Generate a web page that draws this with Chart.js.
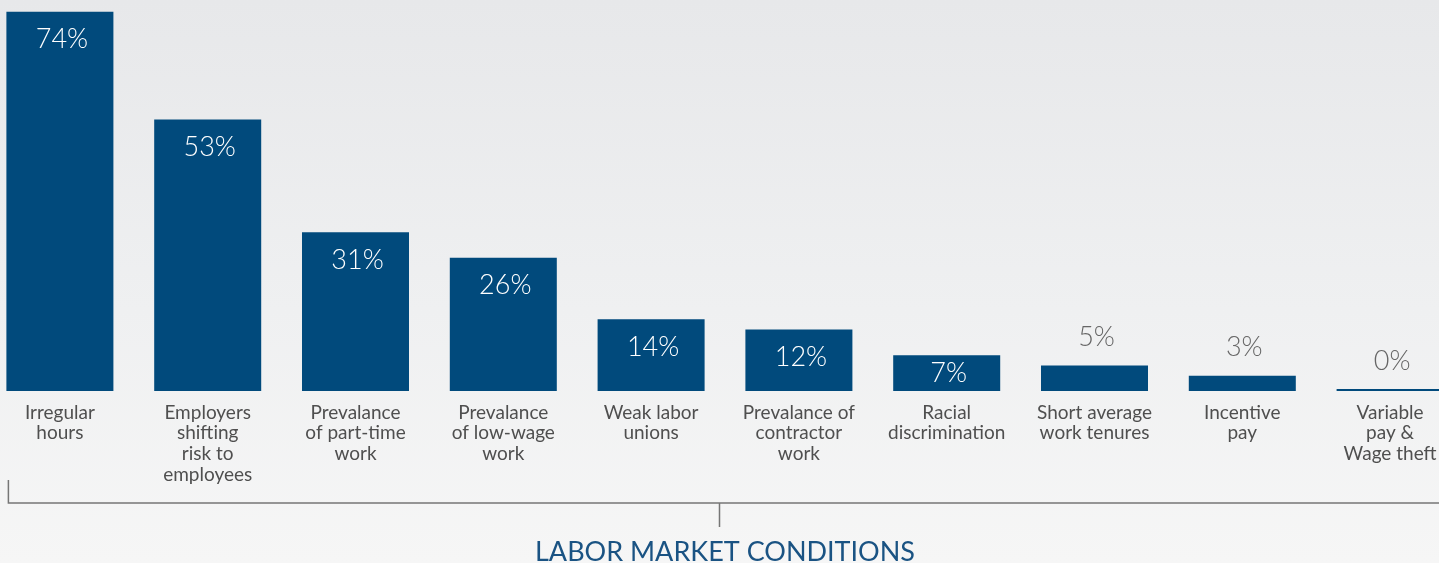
<!DOCTYPE html>
<html>
<head>
<meta charset="utf-8">
<script src="https://cdn.jsdelivr.net/npm/chart.js@4/dist/chart.umd.min.js"></script>
<style>
  html, body { margin: 0; padding: 0; }
  body {
    width: 1439px; height: 563px; overflow: hidden; position: relative;
    background: linear-gradient(to bottom, #e7e8ea 0%, #eff0f1 55%, #f6f6f6 100%);
  }
  #wrap { position: absolute; left: -14px; top: 0; width: 1478px; height: 563px; }
</style>
</head>
<body>
<div id="wrap"><canvas id="laborChart"></canvas></div>
<script>
const categories = [
  ["Irregular", "hours"],
  ["Employers", "shifting", "risk to", "employees"],
  ["Prevalance", "of part-time", "work"],
  ["Prevalance", "of low-wage", "work"],
  ["Weak labor", "unions"],
  ["Prevalance of", "contractor", "work"],
  ["Racial", "discrimination"],
  ["Short average", "work tenures"],
  ["Incentive", "pay"],
  ["Variable", "pay &", "Wage theft"]
];
const shares = [74, 53, 31, 26, 14, 12, 7, 5, 3, 0];
const axisTitle = "LABOR MARKET CONDITIONS";

const VIEW_OFFSET = 14;
const BLUE = "#014a7c";

// percentage labels: inside the bar when there is room, above it otherwise
const valueLabels = {
  id: "valueLabels",
  afterDatasetsDraw(chart) {
    const ctx = chart.ctx;
    const meta = chart.getDatasetMeta(0);
    ctx.save();
    ctx.font = "300 27px Lato";
    ctx.textAlign = "center";
    ctx.textBaseline = "middle";
    meta.data.forEach((bar, i) => {
      const v = shares[i];
      const h = bar.base - bar.y;
      let y;
      if (v >= 7) {
        ctx.fillStyle = "#ffffff";
        y = bar.y + Math.min(28, h / 2);
      } else {
        ctx.fillStyle = "#666666";
        y = bar.y - 28;
      }
      ctx.fillText(v + "%", bar.x + 2, y);
    });
    ctx.restore();
  }
};

// bracket grouping all the categories
const bracket = {
  id: "bracket",
  afterDraw(chart) {
    const ctx = chart.ctx;
    const first = chart.getDatasetMeta(0).data[0];
    const x0 = first.x - first.width / 2 + 2;
    const yLine = chart.chartArea.bottom + 112;
    const mid = VIEW_OFFSET + window.innerWidth / 2;
    ctx.save();
    ctx.strokeStyle = "#767676";
    ctx.lineWidth = 1.5;
    ctx.beginPath();
    ctx.moveTo(x0, yLine - 23);
    ctx.lineTo(x0, yLine);
    ctx.lineTo(chart.width, yLine);
    ctx.moveTo(mid, yLine);
    ctx.lineTo(mid, yLine + 24);
    ctx.stroke();
    ctx.restore();
  }
};

new Chart(document.getElementById("laborChart"), {
  type: "bar",
  data: {
    labels: categories,
    datasets: [{
      data: shares,
      backgroundColor: BLUE,
      categoryPercentage: 1,
      barPercentage: 0.724,
      minBarLength: 2
    }]
  },
  plugins: [valueLabels, bracket],
  options: {
    responsive: true,
    maintainAspectRatio: false,
    animation: false,
    layout: { padding: 0 },
    plugins: {
      legend: { display: false },
      tooltip: { enabled: false }
    },
    scales: {
      y: {
        display: false,
        min: 0,
        max: 76.3
      },
      x: {
        grid: { display: false, drawTicks: false },
        border: { display: false },
        afterFit: (scale) => { scale.height = 172; },
        ticks: {
          autoSkip: false,
          maxRotation: 0,
          padding: 11,
          color: "#4f4f4f",
          font: { family: "Lato", size: 19, lineHeight: 1.1 }
        },
        title: {
          display: true,
          text: axisTitle,
          color: "#1a5383",
          padding: { top: 0, bottom: 0 },
          font: { family: "Lato", size: 27, lineHeight: 0.8 }
        }
      }
    }
  }
});
</script>
</body>
</html>
